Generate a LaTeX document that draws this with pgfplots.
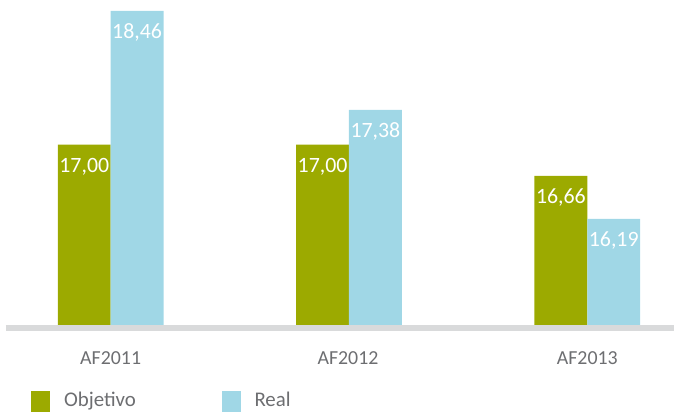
\documentclass[border=0pt]{standalone}
\usepackage{fontspec}
\setmainfont{Carlito}
\usepackage{pgfplots}
\pgfplotsset{compat=1.18}
\definecolor{objetivo}{HTML}{9CAA00}
\definecolor{real}{HTML}{A0D7E6}
\definecolor{basegray}{HTML}{D9DADB}
\definecolor{txtgray}{HTML}{6D6E71}
\begin{document}
\begin{tikzpicture}
\begin{axis}[
    scale only axis,
    width=672bp, height=326bp,
    ymin=15.03, ymax=18.58,
    xmin=-0.4435, xmax=2.368,
    axis lines=none,
    ybar=0pt, bar width=53bp,
    clip=false,
    nodes near coords,
    /pgf/number format/.cd, fixed, fixed zerofill, precision=2, use comma, assume math mode=true,
    /pgfplots/.cd,
    every node near coord/.append style={anchor=center, yshift=-22bp, text=white, font=\fontsize{22}{24}\selectfont},
    legend style={at={(rel axis cs:0.0387,-0.2347)}, anchor=west, draw=none, fill=none,
        inner sep=0pt, legend columns=2, font=\fontsize{21}{24}\selectfont, text=txtgray,
        /tikz/column 2/.style={column sep=84bp}},
    legend image code/.code={\fill (0bp,-12bp) rectangle (19bp,9bp); \path (31bp,0bp);},
]
\addplot[fill=objetivo, draw=none] coordinates {(0,17.00) (1,17.00) (2,16.66)};
\addlegendentry{Objetivo}
\addplot[fill=real, draw=none] coordinates {(0,18.46) (1,17.38) (2,16.19)};
\addlegendentry{Real}
\coordinate (O) at (rel axis cs:0,0);
\coordinate (T) at (rel axis cs:1,1);
\end{axis}
\draw[basegray, line width=6bp] ([xshift=1bp, yshift=-3bp]O) -- ([xshift=-1bp, yshift=-3bp]O -| T);
\foreach \x/\lab in {111/AF2011, 349/AF2012, 589/AF2013}
  \node[text=txtgray, font=\fontsize{20}{24}\selectfont] at ([xshift=\x bp - 5bp, yshift=-33bp]O) {\lab};
\useasboundingbox ([xshift=-5bp, yshift=-86bp]O) rectangle (T);
\end{tikzpicture}
\end{document}
